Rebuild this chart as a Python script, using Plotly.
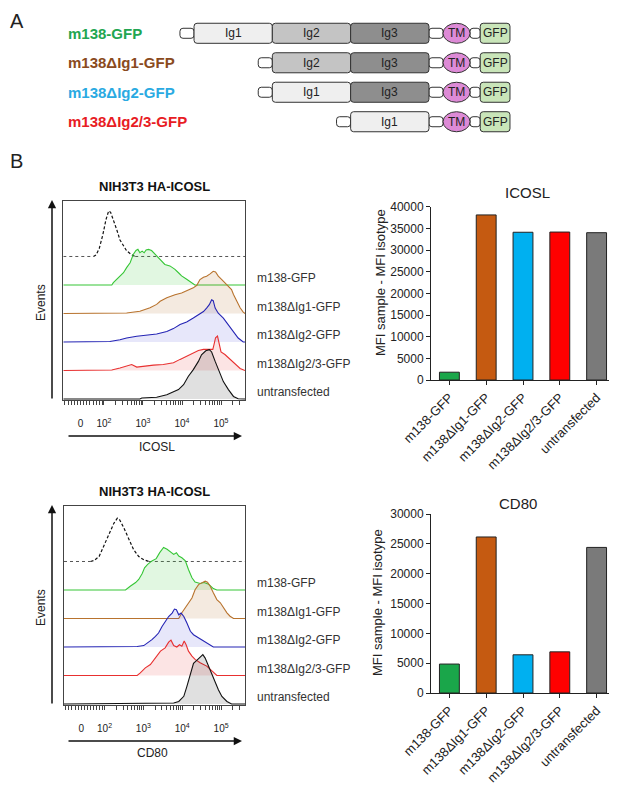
import numpy as np
import plotly.graph_objects as go

W, H = 617, 787
OFF = 8  # page body margin: figure is drawn 8px in from the window corner
FONT = "Arial, 'Liberation Sans', sans-serif"

# ---------------- Panel A: domain layout ----------------
CONSTRUCTS = ["m138-GFP", "m138ΔIg1-GFP", "m138ΔIg2-GFP", "m138ΔIg2/3-GFP"]
CONSTRUCT_DOMAINS = [
    ["stub", "Ig1", "Ig2", "Ig3", "stub", "TM", "link", "GFP"],
    ["stub", "Ig2", "Ig3", "stub", "TM", "link", "GFP"],
    ["stub", "Ig1", "Ig3", "stub", "TM", "link", "GFP"],
    ["stub", "Ig1", "stub", "TM", "link", "GFP"],
]
DOMAIN_LENGTHS = {"stub": 0.18, "Ig1": 1.0, "Ig2": 1.0, "Ig3": 1.0,
                  "TM": 0.345, "link": 0.13, "GFP": 0.38}

# ---------------- Panel B: samples / MFI ----------------
SAMPLES = ["m138-GFP", "m138ΔIg1-GFP", "m138ΔIg2-GFP", "m138ΔIg2/3-GFP", "untransfected"]
ICOSL_MFI = [1800, 38100, 34100, 34150, 34000]
CD80_MFI = [4850, 26150, 6400, 6900, 24400]

# histogram x axis (logicle display position), tick labels
HIST_TICK_POS = [1.40, 2, 3, 4, 5]
HIST_TICK_TEXT = ["0", "10<sup>2</sup>", "10<sup>3</sup>", "10<sup>4</sup>", "10<sup>5</sup>"]

# ICOSL histograms: x = display position, h = height (row units)
ICOSL_ISO_X = [1.73, 1.80, 1.88, 1.97, 2.05, 2.12, 2.17, 2.24, 2.33, 2.41, 2.50, 2.58, 2.71, 2.80]
ICOSL_ISO_H = [0, 0.06, 0.29, 0.76, 1.29, 1.60, 1.55, 1.29, 0.93, 0.58, 0.35, 0.20, 0.06, 0]
ICOSL_M138_X = [2.20, 2.24, 2.33, 2.41, 2.50, 2.58, 2.67, 2.75, 2.82, 2.87, 2.92, 2.98, 3.03, 3.08,
                3.14, 3.22, 3.31, 3.39, 3.48, 3.56, 3.69, 3.82, 3.91, 3.99, 4.12, 4.25, 4.33]
ICOSL_M138_H = [0, 0.08, 0.20, 0.32, 0.43, 0.61, 0.78, 1.07, 1.21, 1.25, 1.13, 1.19, 1.13, 1.23,
                1.25, 1.21, 1.07, 0.96, 0.84, 0.72, 0.67, 0.55, 0.43, 0.32, 0.20, 0.08, 0]
ICOSL_DIG1_X = [2.41, 2.58, 2.92, 3.18, 3.35, 3.44, 3.61, 3.82, 3.99, 4.16, 4.29, 4.38, 4.46, 4.55,
                4.63, 4.72, 4.80, 4.86, 4.93, 5.02, 5.10, 5.19, 5.27, 5.32, 5.40, 5.49, 5.57, 5.615]
ICOSL_DIG1_H = [0, 0.02, 0.08, 0.20, 0.32, 0.43, 0.55, 0.66, 0.72, 0.81, 0.90, 0.99, 1.19, 1.27,
                1.31, 1.39, 1.48, 1.46, 1.31, 1.19, 1.07, 0.96, 0.84, 0.67, 0.43, 0.20, 0.05, 0]
ICOSL_DIG2_X = [2.15, 2.41, 2.58, 2.84, 3.09, 3.35, 3.61, 3.78, 3.95, 4.12, 4.29, 4.42, 4.55, 4.63,
                4.70, 4.76, 4.80, 4.85, 4.93, 5.06, 5.19, 5.32, 5.44, 5.57]
ICOSL_DIG2_H = [0.02, 0.08, 0.14, 0.20, 0.23, 0.28, 0.37, 0.47, 0.61, 0.70, 0.84, 0.96, 1.07, 1.19,
                1.31, 1.48, 1.45, 1.19, 1.01, 0.84, 0.61, 0.37, 0.14, 0]
ICOSL_DIG23_X = [2.20, 2.41, 2.58, 2.71, 2.84, 3.01, 3.27, 3.52, 3.78, 3.95, 4.12, 4.29, 4.42, 4.55,
                 4.68, 4.79, 4.82, 4.86, 4.91, 4.95, 5.00, 5.10, 5.23, 5.36, 5.49, 5.615]
ICOSL_DIG23_H = [0.02, 0.09, 0.15, 0.21, 0.12, 0.15, 0.19, 0.21, 0.27, 0.39, 0.50, 0.62, 0.70, 0.74,
                 0.74, 0.74, 0.91, 1.15, 1.21, 0.91, 0.65, 0.56, 0.39, 0.21, 0.07, 0]
ICOSL_UNTR_X = [2.92, 2.97, 3.35, 3.61, 3.78, 3.91, 4.04, 4.16, 4.29, 4.42, 4.50, 4.61, 4.70, 4.76,
                4.85, 4.96, 5.06, 5.19, 5.32, 5.44, 5.615]
ICOSL_UNTR_H = [0, 0.035, 0.06, 0.15, 0.245, 0.33, 0.50, 0.79, 1.03, 1.32, 1.55, 1.69, 1.73, 1.65,
                1.32, 0.96, 0.61, 0.33, 0.09, 0.01, 0]

# CD80 histograms
CD80_ISO_X = [1.64, 1.73, 1.86, 1.98, 2.11, 2.24, 2.33, 2.39, 2.50, 2.58, 2.67, 2.75, 2.88, 3.01, 3.14]
CD80_ISO_H = [0, 0.035, 0.175, 0.53, 0.93, 1.34, 1.52, 1.46, 1.17, 0.93, 0.70, 0.41, 0.175, 0.06, 0]
CD80_M138_X = [2.54, 2.67, 2.80, 2.88, 2.97, 3.03, 3.11, 3.22, 3.33, 3.42, 3.52, 3.61, 3.69, 3.78,
               3.85, 3.91, 3.99, 4.08, 4.16, 4.25, 4.33, 4.46, 4.56, 4.68, 4.80, 4.89]
CD80_M138_H = [0, 0.14, 0.26, 0.37, 0.58, 0.78, 0.90, 1.02, 1.10, 1.31, 1.49, 1.43, 1.33, 1.25,
               1.31, 1.19, 1.13, 1.02, 0.72, 0.43, 0.28, 0.23, 0.26, 0.20, 0.05, 0]
CD80_DIG1_X = [3.91, 3.99, 4.08, 4.16, 4.25, 4.33, 4.42, 4.50, 4.59, 4.65, 4.72, 4.80, 4.89, 4.98,
               5.06, 5.15, 5.23, 5.32]
CD80_DIG1_H = [0, 0.20, 0.375, 0.55, 0.72, 1.01, 1.19, 1.25, 1.31, 1.27, 1.13, 0.90, 0.665, 0.55,
               0.375, 0.20, 0.08, 0]
CD80_DIG2_X = [2.84, 3.01, 3.14, 3.22, 3.31, 3.39, 3.48, 3.56, 3.65, 3.74, 3.80, 3.85, 3.91, 3.97,
               4.04, 4.12, 4.21, 4.29, 4.42, 4.55, 4.68, 4.80]
CD80_DIG2_H = [0.02, 0.05, 0.165, 0.26, 0.37, 0.49, 0.72, 0.90, 1.07, 1.19, 1.33, 1.31, 1.13, 1.19,
               1.07, 0.84, 0.55, 0.43, 0.315, 0.20, 0.08, 0]
CD80_DIG23_X = [2.84, 2.92, 3.05, 3.18, 3.31, 3.44, 3.56, 3.65, 3.71, 3.78, 3.86, 3.93, 3.99, 4.05,
                4.10, 4.16, 4.25, 4.33, 4.46, 4.63, 4.80, 4.89]
CD80_DIG23_H = [0, 0.09, 0.27, 0.385, 0.62, 0.855, 0.97, 1.17, 1.24, 1.05, 1.0, 1.08, 1.03, 1.21,
                1.08, 0.855, 0.68, 0.565, 0.445, 0.33, 0.12, 0]
CD80_UNTR_X = [3.78, 3.91, 4.04, 4.12, 4.21, 4.29, 4.38, 4.46, 4.53, 4.59, 4.68, 4.76, 4.85, 4.93,
               5.02, 5.15, 5.27]
CD80_UNTR_H = [0.035, 0.09, 0.27, 0.62, 1.08, 1.43, 1.54, 1.66, 1.73, 1.61, 1.32, 1.03, 0.735, 0.50,
               0.265, 0.09, 0]

# ---------------- styles ----------------
LABEL_COLORS = ["#22a651", "#8a4a20", "#2aaae2", "#e81c24"]
DOMAIN_STYLE = {  # fill, thickness (row units)
    "stub": ("white", 0.34), "link": ("white", 0.34),
    "Ig1": ("#efefef", 0.68), "Ig2": ("#c4c4c4", 0.68), "Ig3": ("#8e8e8e", 0.68),
    "GFP": ("#c9e5b9", 0.68), "TM": ("#dd8ad6", 0.68),
}
LINE_COLORS = ["#36c636", "#b8732e", "#2424b4", "#e83030", "#111111"]
FILL_COLORS = ["rgba(54,198,54,0.15)", "rgba(184,115,46,0.15)", "rgba(60,60,210,0.12)",
               "rgba(232,48,48,0.13)", "rgba(0,0,0,0.12)"]
BAR_COLORS = ["#1aa64a", "#c55a11", "#00b0f0", "#ff0000", "#7a7a7a"]
X_MIN, X_MAX = 0.957, 5.615


def fx(px):
    return (px - OFF) / W


def fy(py):
    return 1 - (py - OFF) / H


fig = go.Figure()
annotations = []
shapes = []

# ---------- panel A diagram ----------
parts = {}
for row, doms in enumerate(CONSTRUCT_DOMAINS):
    pos = -sum(DOMAIN_LENGTHS[d] for d in doms)
    for d in doms:
        L = DOMAIN_LENGTHS[d]
        if d == "TM":
            shapes.append(dict(type="circle", xref="x", yref="y", x0=pos, x1=pos + L,
                               y0=row - 0.34, y1=row + 0.34, fillcolor=DOMAIN_STYLE["TM"][0],
                               line=dict(color="#333", width=1)))
        else:
            parts.setdefault(d, []).append((row, pos, L))
        if d not in ("stub", "link"):
            annotations.append(dict(x=pos + L / 2, y=row, xref="x", yref="y", text=d,
                                    xanchor="center", yanchor="middle",
                                    showarrow=False, font=dict(size=12, color="#222")))
        pos += L

for key in ["stub", "link", "Ig1", "Ig2", "Ig3", "GFP"]:
    rows = parts[key]
    color, thick = DOMAIN_STYLE[key]
    fig.add_trace(go.Bar(
        orientation="h", y=[r[0] for r in rows], base=[r[1] for r in rows],
        x=[r[2] for r in rows], width=thick, xaxis="x", yaxis="y",
        marker=dict(color=color, line=dict(color="#333", width=1), cornerradius=3),
        showlegend=False, hoverinfo="skip"))

for row, (name, color) in enumerate(zip(CONSTRUCTS, LABEL_COLORS)):
    annotations.append(dict(x=fx(66), y=row, xref="paper", yref="y", text=f"<b>{name}</b>",
                            xanchor="left", yanchor="middle", showarrow=False,
                            font=dict(size=15, color=color)))


# ---------- histograms ----------
def add_hist(xa, ya, iso_x, iso_h, curves):
    fig.add_trace(go.Scatter(x=[X_MIN, iso_x[0], None, iso_x[-1], X_MAX], y=[5, 5, None, 5, 5],
                             mode="lines", line=dict(color="#555", width=1, dash="dot"),
                             xaxis=xa, yaxis=ya, showlegend=False, hoverinfo="skip"))
    fig.add_trace(go.Scatter(x=iso_x, y=[5 + v for v in iso_h], mode="lines",
                             line=dict(color="#111", width=1.2, dash="3px,2px"),
                             xaxis=xa, yaxis=ya, showlegend=False, hoverinfo="skip"))
    for i, (xs, hs) in enumerate(curves):
        row = 4 - i
        fig.add_trace(go.Scatter(
            x=[X_MIN] + xs + [X_MAX], y=[row] + [row + v for v in hs] + [row],
            mode="lines", fill="toself", fillcolor=FILL_COLORS[i],
            line=dict(color=LINE_COLORS[i], width=1.1),
            xaxis=xa, yaxis=ya, showlegend=False, hoverinfo="skip"))
    for i, name in enumerate(SAMPLES):
        annotations.append(dict(x=fx(255), y=4 - i + 0.245, xref="paper", yref=ya,
                                text=name, xanchor="left", yanchor="middle", showarrow=False,
                                font=dict(size=12, color="#333")))


add_hist("x2", "y2", ICOSL_ISO_X, ICOSL_ISO_H,
         [(ICOSL_M138_X, ICOSL_M138_H), (ICOSL_DIG1_X, ICOSL_DIG1_H), (ICOSL_DIG2_X, ICOSL_DIG2_H),
          (ICOSL_DIG23_X, ICOSL_DIG23_H), (ICOSL_UNTR_X, ICOSL_UNTR_H)])
add_hist("x3", "y3", CD80_ISO_X, CD80_ISO_H,
         [(CD80_M138_X, CD80_M138_H), (CD80_DIG1_X, CD80_DIG1_H), (CD80_DIG2_X, CD80_DIG2_H),
          (CD80_DIG23_X, CD80_DIG23_H), (CD80_UNTR_X, CD80_UNTR_H)])

# ---------- bar charts ----------
fig.add_trace(go.Bar(x=SAMPLES, y=ICOSL_MFI, xaxis="x4", yaxis="y4", width=0.54,
                     marker=dict(color=BAR_COLORS, line=dict(color="#222", width=1)),
                     showlegend=False))
fig.add_trace(go.Bar(x=SAMPLES, y=CD80_MFI, xaxis="x5", yaxis="y5", width=0.54,
                     marker=dict(color=BAR_COLORS, line=dict(color="#222", width=1)),
                     showlegend=False))

# ---------- axes ----------
minor = [1.0, 1.08, 1.16, 1.24, 1.32, 1.48, 1.56, 1.64, 1.72, 1.80, 1.88, 1.95]
minor += [d + np.log10(k) for d in (2, 3, 4) for k in range(2, 10)] + [5.30, 5.48]
tickvals = HIST_TICK_POS + minor
ticktext = HIST_TICK_TEXT + [""] * len(minor)

hist_x = dict(range=[X_MIN, X_MAX], tickvals=tickvals, ticktext=ticktext, ticks="outside",
              ticklen=4, tickcolor="#444", showgrid=False, zeroline=False, showline=True,
              mirror=True, linecolor="#444", linewidth=1, tickfont=dict(size=10, color="#222"),
              ticklabelstandoff=10, automargin=False)
hist_y = dict(range=[-0.035, 6.947], showticklabels=False, ticks="", showgrid=False,
              zeroline=False, showline=True, mirror=True, linecolor="#444", linewidth=1,
              automargin=False)
bar_x = dict(range=[-0.5, 4.5], showline=True, linecolor="#222", linewidth=1, ticks="outside",
             ticklen=4, tickcolor="#222", tickangle=-45, showgrid=False, automargin=False,
             tickfont=dict(size=13, color="#222"))
bar_y = dict(showline=True, linecolor="#222", linewidth=1, ticks="outside", ticklen=4,
             tickcolor="#222", showgrid=False, zeroline=False, tickformat="d", dtick=5000,
             tickfont=dict(size=12, color="#222"), automargin=False)

fig.update_layout(
    template="none",
    width=W, height=H, autosize=False, margin=dict(l=0, r=0, t=0, b=0, pad=0),
    paper_bgcolor="white", plot_bgcolor="white", barmode="overlay",
    font=dict(family=FONT, color="#222"),
    xaxis=dict(domain=[fx(170), fx(520)], range=[-4.342, 0.128], visible=False, anchor="y",
               automargin=False),
    yaxis=dict(domain=[fy(135), fy(15)], range=[3.45, -0.62], visible=False, anchor="x",
               automargin=False),
    xaxis2=dict(domain=[fx(63.3), fx(245)], anchor="y2", **hist_x),
    yaxis2=dict(domain=[fy(400), fy(201)], anchor="x2", **hist_y),
    xaxis3=dict(domain=[fx(64), fx(245)], anchor="y3", **hist_x),
    yaxis3=dict(domain=[fy(705), fy(506)], anchor="x3", **hist_y),
    xaxis4=dict(domain=[fx(431), fx(615)], anchor="y4", **bar_x),
    yaxis4=dict(domain=[fy(380), fy(206.7)], anchor="x4", range=[0, 40000], **bar_y),
    xaxis5=dict(domain=[fx(431), fx(615)], anchor="y5", **bar_x),
    yaxis5=dict(domain=[fy(693), fy(514)], anchor="x5", range=[0, 30000], **bar_y),
)


# ---------- text & arrows ----------
def paper_text(x, y, text, size, **kw):
    kw.setdefault("xanchor", "center")
    kw.setdefault("yanchor", "middle")
    annotations.append(dict(x=fx(x), y=fy(y), xref="paper", yref="paper", text=text,
                            showarrow=False,
                            font=dict(size=size, color=kw.pop("color", "#222")), **kw))


paper_text(OFF, OFF, "A", 20, xanchor="left", yanchor="top")
paper_text(OFF, 161, "B", 20, xanchor="left")
for top in (0, 305):
    paper_text(154, 186 + top, "<b>NIH3T3 HA-ICOSL</b>", 13, color="#111")
    paper_text(41, 303 + top, "Events", 12, textangle=-90)
    annotations.append(dict(x=fx(52), y=fy(200 + top), xref="paper", yref="paper", text="",
                            showarrow=True, ax=0, ay=200, arrowhead=2, arrowsize=1.1,
                            arrowwidth=1.5, arrowcolor="#111"))
    annotations.append(dict(x=fx(242), y=fy(436 + top), xref="paper", yref="paper", text="",
                            showarrow=True, ax=-175, ay=0, arrowhead=2, arrowsize=1.1,
                            arrowwidth=1.5, arrowcolor="#111"))
paper_text(157, 447, "ICOSL", 12)
paper_text(152, 753, "CD80", 12)
paper_text(527, 192, "ICOSL", 15)
paper_text(518, 503, "CD80", 15)
paper_text(380, 283, "MFI sample - MFI isotype", 13, textangle=-90)
paper_text(377, 603, "MFI sample - MFI isotype", 13, textangle=-90)

fig.update_layout(annotations=annotations, shapes=shapes)
fig.write_html("out.html")
